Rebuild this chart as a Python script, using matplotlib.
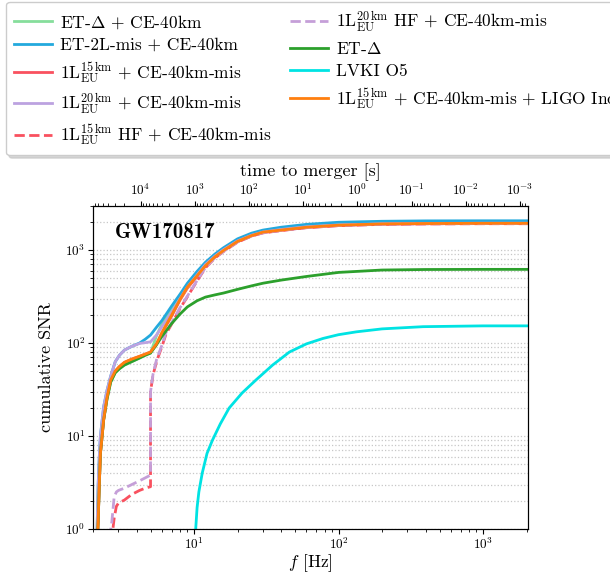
import numpy as np
import matplotlib
matplotlib.use("Agg")
import matplotlib.pyplot as plt

# ---- estilo tipo LaTeX (Computer Modern) ----
plt.rcParams['font.family'] = 'cmr10'
plt.rcParams['mathtext.fontset'] = 'cm'
plt.rcParams['axes.formatter.use_mathtext'] = True
plt.rcParams['axes.unicode_minus'] = False

# =================================================================
# DATOS
# =================================================================
freq = [2.13, 2.17, 2.21, 2.25, 2.37, 2.5, 2.65, 2.85, 3.05, 3.3, 3.7, 4.2, 4.6, 5.0,
        5.5, 6.0, 7.0, 8.0, 9.0, 10.5, 12, 14, 16, 20, 25, 30, 40, 60,
        100, 200, 400, 1000, 2048]

snr_et_ce = [0.6, 1.2, 3, 6.5, 15, 25, 38, 48, 53, 58, 63, 69, 74, 78,
             120, 160, 230, 315, 410, 560, 720, 890, 1030, 1280, 1470, 1590, 1710, 1830,
             1920, 1965, 1985, 1990, 1990]
snr_et2l_ce = [0.9, 3, 6, 10, 20.7, 31, 44, 63, 74, 84, 92, 100, 110, 122,
               148, 175, 250, 335, 440, 590, 740, 910, 1060, 1320, 1520, 1640, 1760, 1890,
               1990, 2040, 2060, 2065, 2065]
snr_1l15_ce = [0.6, 1.2, 3, 6.5, 15, 26, 40, 50, 56, 62, 67, 72, 76, 80,
               97, 128, 195, 290, 390, 520, 675, 840, 985, 1230, 1420, 1540, 1630, 1750,
               1840, 1900, 1920, 1930, 1930]
snr_1l20_ce = [0.9, 3, 6, 10, 20.7, 31, 44, 63, 74, 84, 92, 99, 101, 103,
               122, 150, 215, 300, 400, 540, 700, 865, 1010, 1255, 1445, 1565, 1665, 1780,
               1865, 1915, 1935, 1945, 1945]
snr_et = [0.6, 1.2, 3, 6.5, 15, 25, 38, 48, 53, 58, 63, 69, 74, 78,
          96, 118, 162, 205, 245, 285, 312, 330, 345, 378, 412, 440, 475, 520,
          575, 610, 618, 620, 620]
snr_1l15_ce_ligoi = [0.6, 1.2, 3, 6.5, 15, 26, 40, 50, 56, 62, 67, 72, 76, 80,
                     98, 130, 200, 295, 400, 530, 680, 850, 990, 1240, 1430, 1560, 1640, 1760,
                     1850, 1910, 1930, 1940, 1940]

# curvas 1L HF (arrancan más tarde y saltan en 5 Hz al entrar CE)
freq_hf = [2.6, 2.7, 2.8, 2.9, 3.0, 3.3, 3.7, 4.2, 4.6, 5.0, 5.0, 5.2,
           5.5, 6.0, 6.4, 7.0, 7.5, 8.0, 9.0, 10.5, 12, 14, 16, 20, 25, 30,
           40, 60, 100, 200, 400, 1000, 2048]
snr_1l15hf_ce = [0.5, 0.8, 1.3, 1.75, 1.9, 2.05, 2.35, 2.6, 2.75, 2.85, 30, 45,
                 63, 92, 125, 160, 195, 235, 315, 465, 645, 825, 965, 1215, 1415, 1530,
                 1620, 1740, 1830, 1890, 1910, 1920, 1920]
snr_1l20hf_ce = [0.8, 1.2, 2.2, 2.5, 2.6, 2.75, 3.0, 3.3, 3.55, 3.8, 30, 46,
                 66, 95, 130, 165, 200, 240, 320, 470, 650, 830, 970, 1220, 1420, 1535,
                 1625, 1745, 1835, 1895, 1915, 1925, 1925]

freq_lvk = [10.2, 10.27, 10.5, 10.8, 11.4, 12.3, 13.4, 15.2, 17.5, 21.5, 26.8, 35, 45.7,
            60, 78, 100, 133, 200, 385, 1000, 2048]
snr_lvk = [0.6, 1.0, 1.7, 2.5, 4.0, 6.5, 9.0, 13.5, 20, 29, 40, 58, 80,
           98, 112, 123, 132, 142, 150, 153, 153]

# tiempo hasta la fusión (aprox. newtoniano) para GW170817
Mc = 1.1977            # masa chirp (marco del detector) [Msun]
T_SUN = 4.925491e-6    # G Msun / c^3 [s]

def tau(f):
    return 5.0 / 256.0 * (Mc * T_SUN) ** (-5.0 / 3.0) * (np.pi * np.asarray(f)) ** (-8.0 / 3.0)

# =================================================================
# FIGURA
# =================================================================
fig = plt.figure(figsize=(6.1, 5.73), dpi=100)
ax = fig.add_axes([0.1525, 0.0768, 0.7131, 0.5642])

lw = 2.0
ax.plot(freq, snr_et_ce, color='#86de9c', lw=lw, label=r'ET-$\Delta$ + CE-40km')
ax.plot(freq, snr_et2l_ce, color='#23a9dd', lw=lw, label='ET-2L-mis + CE-40km')
ax.plot(freq, snr_1l15_ce, color='#f9515f', lw=lw,
        label=r'$1\mathrm{L}^{15\,\mathrm{km}}_{\mathrm{EU}}$ + CE-40km-mis')
ax.plot(freq, snr_1l20_ce, color='#bca2e0', lw=lw,
        label=r'$1\mathrm{L}^{20\,\mathrm{km}}_{\mathrm{EU}}$ + CE-40km-mis')
ax.plot(freq_hf, snr_1l15hf_ce, color='#f9515f', lw=lw, ls='--',
        label=r'$1\mathrm{L}^{15\,\mathrm{km}}_{\mathrm{EU}}$ HF + CE-40km-mis')
ax.plot(freq_hf, snr_1l20hf_ce, color='#c59fd8', lw=lw, ls='--',
        label=r'$1\mathrm{L}^{20\,\mathrm{km}}_{\mathrm{EU}}$ HF + CE-40km-mis')
ax.plot(freq, snr_et, color='#2ca02c', lw=lw, label=r'ET-$\Delta$')
ax.plot(freq_lvk, snr_lvk, color='#00e3e3', lw=lw, label='LVKI O5')
ax.plot(freq, snr_1l15_ce_ligoi, color='#ff7f0e', lw=lw,
        label=r'$1\mathrm{L}^{15\,\mathrm{km}}_{\mathrm{EU}}$ + CE-40km-mis + LIGO India')

ax.set_xscale('log')
ax.set_yscale('log')
ax.set_xlim(2, 2048)
ax.set_ylim(1, 3000)
ax.grid(True, which='both', axis='y', ls=':', color='0.78', lw=0.9)
ax.set_xlabel(r'$f$ [Hz]', fontsize=12.5, labelpad=0)
ax.set_ylabel('cumulative SNR', fontsize=13, labelpad=8)
ax.tick_params(labelsize=9.5, pad=2)

ax.text(0.05, 0.918, 'GW170817', transform=ax.transAxes, fontname='cmb10',
        fontsize=15, va='center', ha='left')

# eje superior: tiempo hasta la fusión
ax2 = ax.twiny()
ax2.set_xscale('log')
ax2.set_xlim(tau(2), tau(2048))
ax2.set_xlabel('time to merger [s]', fontsize=13, labelpad=5)
ax2.tick_params(labelsize=9.5, pad=2)

# leyenda arriba, fuera de los ejes
fig.legend(loc='upper left', bbox_to_anchor=(0.01, 0.997), ncol=2,
           fontsize=12.5, handlelength=2.2, handletextpad=0.45, labelspacing=0.4,
           columnspacing=1.05, borderpad=0.45, borderaxespad=0.0,
           frameon=True, shadow={'color': '0.75', 'alpha': 0.6}, edgecolor='0.8')

fig.savefig('out.png', dpi=100)
